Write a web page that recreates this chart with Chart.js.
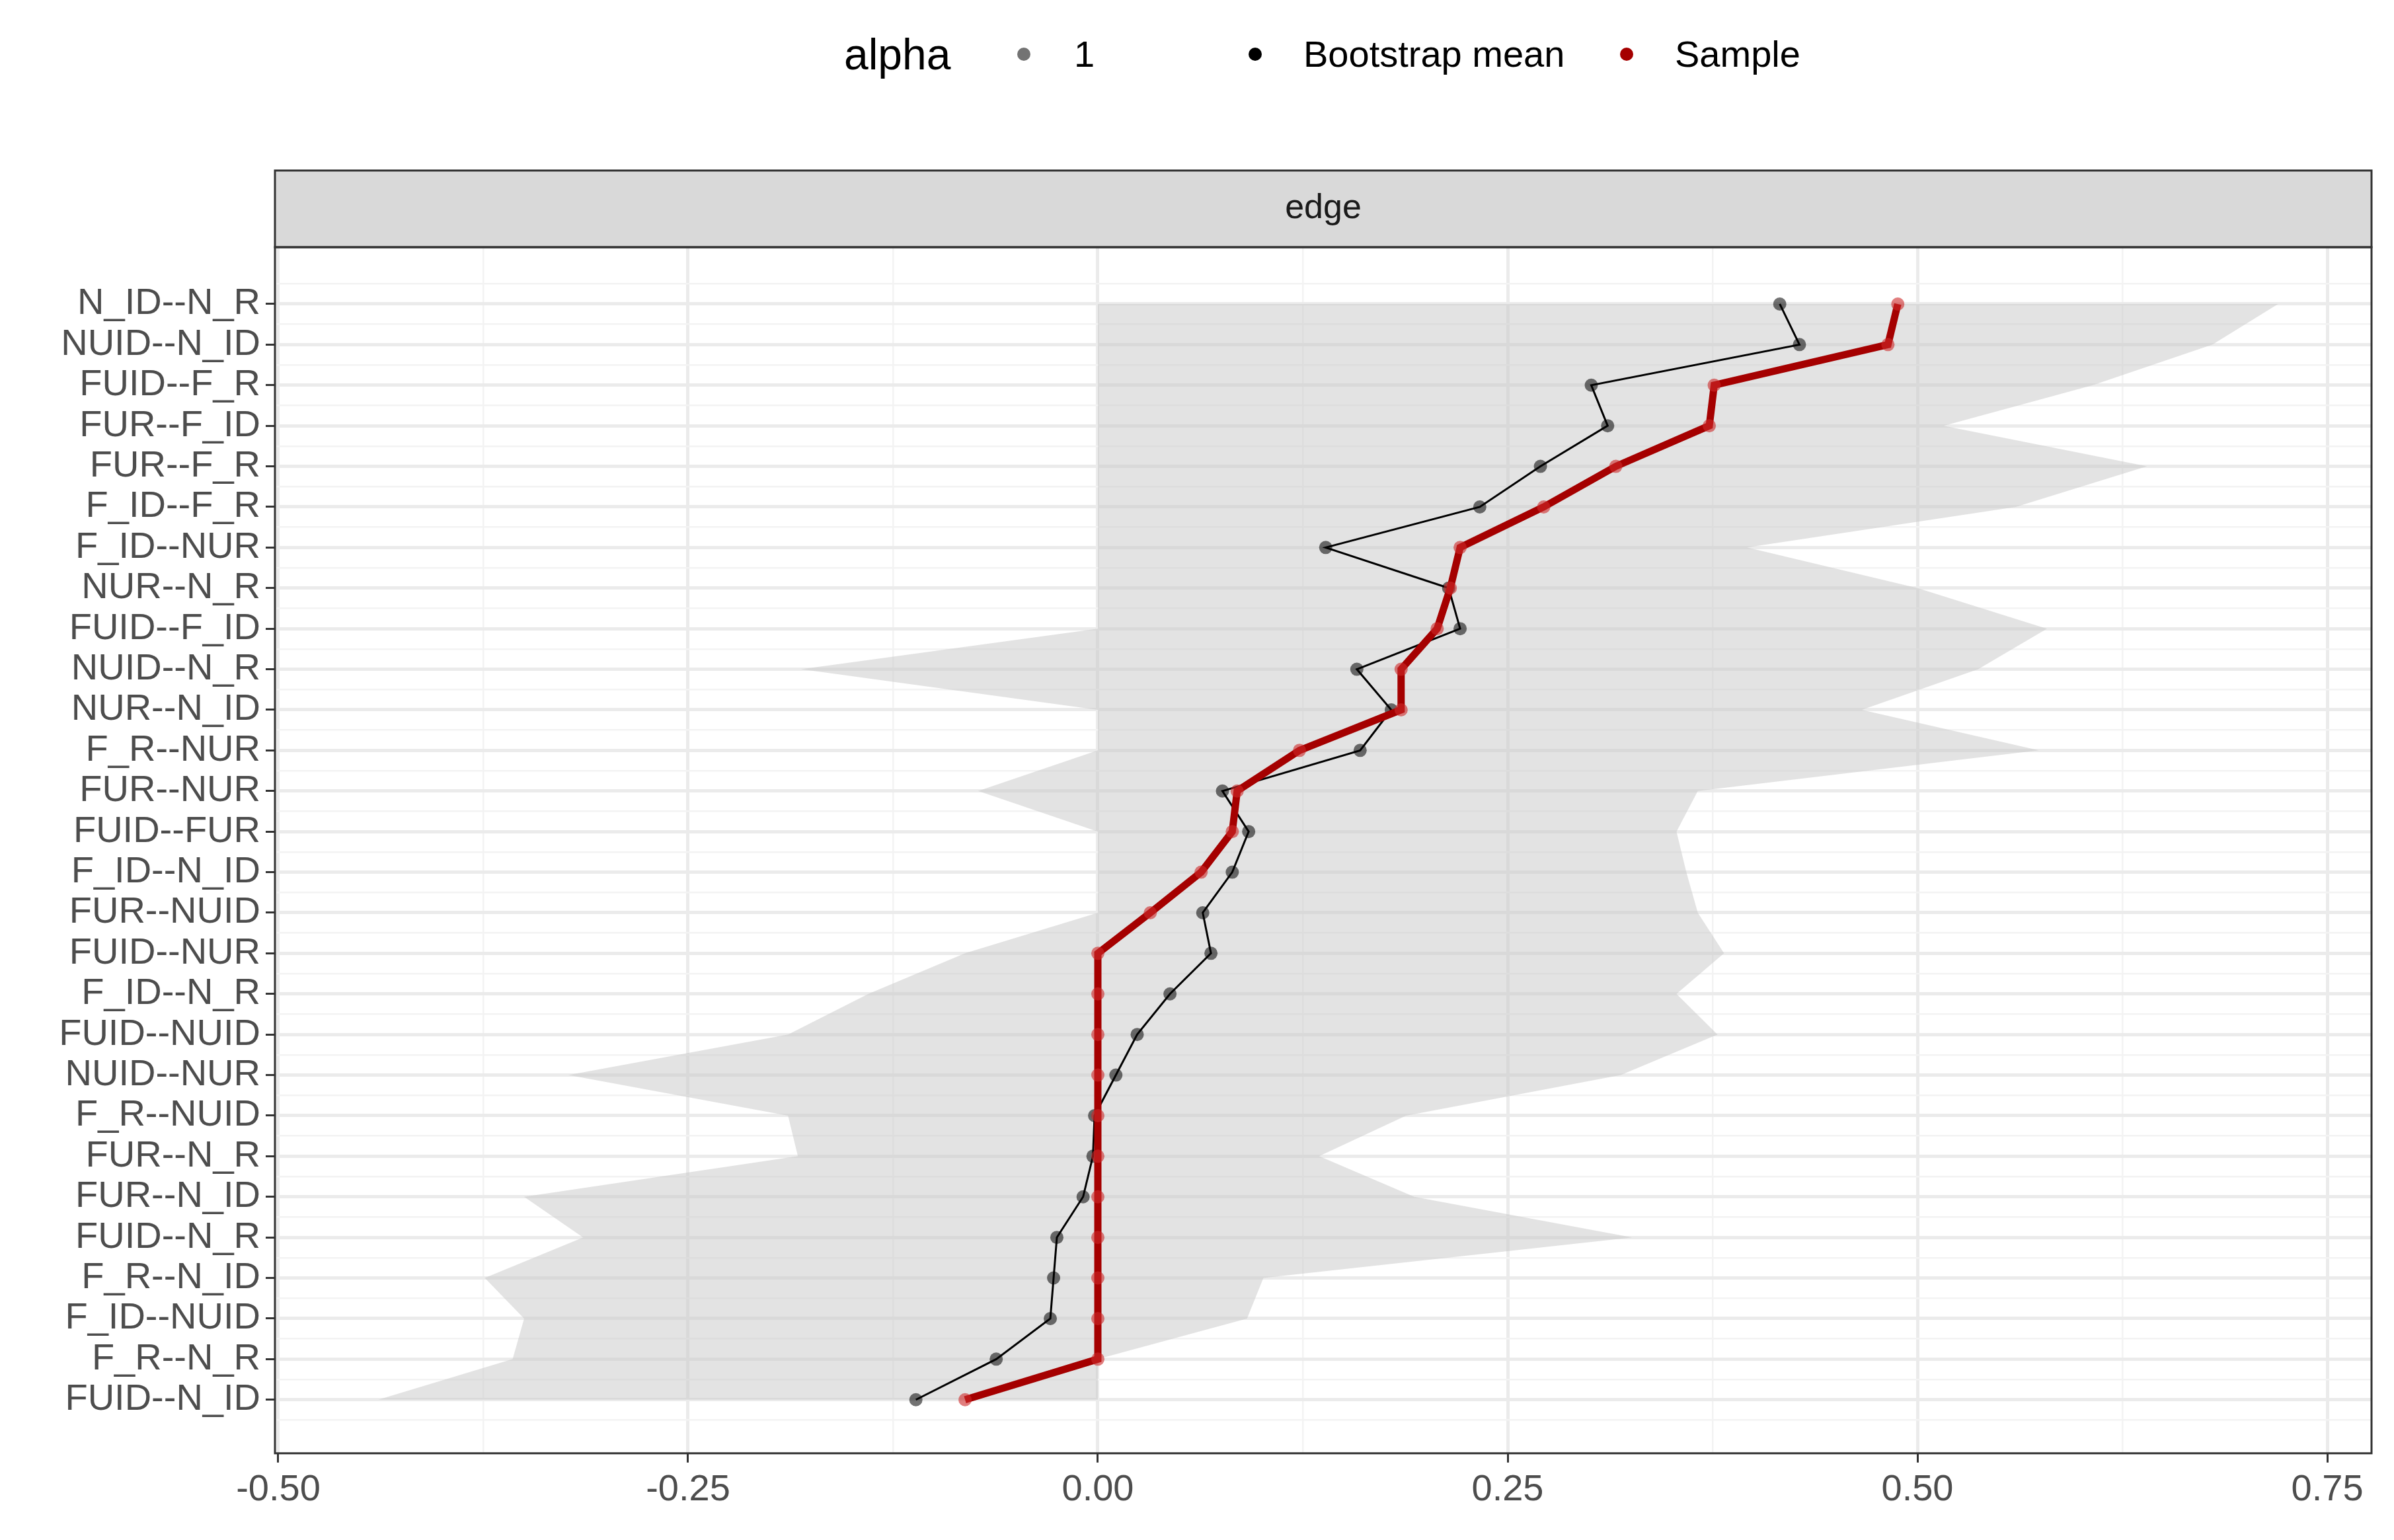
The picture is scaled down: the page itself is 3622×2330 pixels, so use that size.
<!DOCTYPE html>
<html>
<head>
<meta charset="utf-8">
<script src="https://cdn.jsdelivr.net/npm/chart.js@4/dist/chart.umd.min.js"></script>
<style>
  html, body { margin: 0; padding: 0; background: #fff; }
  #wrap { position: relative; width: 3622px; height: 2330px; }
  #legend { position: absolute; top: 40px; left: 0; width: 3622px; height: 84px;
            font-family: "Liberation Sans", Arial, sans-serif; color: #000; }
  #legend span { position: absolute; top: 0; line-height: 84px; }
  .dot { width: 20px; height: 20px; border-radius: 50%; top: 32px !important; }
</style>
</head>
<body>
<div id="wrap">
  <canvas id="edgeChart" width="3622" height="2330"></canvas>
  <div id="legend">
    <span style="left:1277px;font-size:66px">alpha</span>
    <span class="dot" style="left:1539px;background:rgba(0,0,0,0.55)"></span>
    <span style="left:1625px;font-size:56px">1</span>
    <span class="dot" style="left:1889px;background:#000"></span>
    <span style="left:1972px;font-size:56px">Bootstrap mean</span>
    <span class="dot" style="left:2451px;background:#a50000"></span>
    <span style="left:2534px;font-size:56px">Sample</span>
  </div>
</div>
<script>
const edges = ['N_ID--N_R', 'NUID--N_ID', 'FUID--F_R', 'FUR--F_ID', 'FUR--F_R', 'F_ID--F_R', 'F_ID--NUR',
  'NUR--N_R', 'FUID--F_ID', 'NUID--N_R', 'NUR--N_ID', 'F_R--NUR', 'FUR--NUR', 'FUID--FUR', 'F_ID--N_ID',
  'FUR--NUID', 'FUID--NUR', 'F_ID--N_R', 'FUID--NUID', 'NUID--NUR', 'F_R--NUID', 'FUR--N_R', 'FUR--N_ID',
  'FUID--N_R', 'F_R--N_ID', 'F_ID--NUID', 'F_R--N_R', 'FUID--N_ID'];
const sample = [0.488, 0.482, 0.376, 0.373, 0.316, 0.272, 0.221, 0.215, 0.207, 0.185, 0.185, 0.123, 0.085, 0.082,
  0.063, 0.032, 0, 0, 0, 0, 0, 0, 0, 0, 0, 0, 0, -0.081];
const bootMean = [0.416, 0.428, 0.301, 0.311, 0.270, 0.233, 0.139, 0.214, 0.221, 0.158, 0.179, 0.160, 0.076, 0.092,
  0.082, 0.064, 0.069, 0.044, 0.024, 0.011, -0.002, -0.003, -0.009, -0.025, -0.027, -0.029, -0.062, -0.111];
const lower = [0, 0, 0, 0, 0, 0, 0, 0, 0, -0.181, 0, 0, -0.073, 0,
  0, 0, -0.081, -0.140, -0.189, -0.323, -0.189, -0.183, -0.350, -0.314, -0.374, -0.350, -0.357, -0.439];
const upper = [0.720, 0.680, 0.607, 0.516, 0.640, 0.560, 0.396, 0.500, 0.579, 0.537, 0.466, 0.574, 0.366, 0.353,
  0.359, 0.366, 0.382, 0.353, 0.378, 0.319, 0.188, 0.135, 0.193, 0.326, 0.101, 0.091, 0, 0];
const xTicks = [-0.5, -0.375, -0.25, -0.125, 0, 0.125, 0.25, 0.375, 0.5, 0.625, 0.75];

const pts = arr => arr.map((v, i) => ({ x: v, y: i }));
const font = { family: "'Liberation Sans', Arial, sans-serif", size: 56 };
const isMajorX = v => Math.abs(v * 4 - Math.round(v * 4)) < 1e-6;

// facet strip "edge" and panel border
const stripPlugin = {
  id: 'strip',
  afterDraw(chart) {
    const { ctx, chartArea: a } = chart;
    ctx.save();
    ctx.fillStyle = '#d9d9d9';
    ctx.fillRect(a.left, a.top - 116, a.right - a.left, 116);
    ctx.strokeStyle = '#333';
    ctx.lineWidth = 3;
    ctx.strokeRect(a.left, a.top - 116, a.right - a.left, 116);
    ctx.strokeRect(a.left, a.top, a.right - a.left, a.bottom - a.top);
    ctx.fillStyle = '#1a1a1a';
    ctx.font = "52px 'Liberation Sans', Arial, sans-serif";
    ctx.textAlign = 'center';
    ctx.textBaseline = 'middle';
    ctx.fillText('edge', (a.left + a.right) / 2, a.top - 58);
    ctx.restore();
  }
};

const ctx = document.getElementById('edgeChart').getContext('2d');
new Chart(ctx, {
  type: 'line',
  data: {
    datasets: [
      { label: 'lower', data: pts(lower), borderWidth: 0, pointRadius: 0, fill: false, order: 4 },
      { label: 'upper', data: pts(upper), borderWidth: 0, pointRadius: 0,
        backgroundColor: 'rgba(200,200,200,0.5)', fill: '-1', order: 3 },
      { label: 'Bootstrap mean', data: pts(bootMean), borderColor: '#000', borderWidth: 3,
        pointRadius: 10, pointBackgroundColor: 'rgba(0,0,0,0.55)', pointBorderWidth: 0, order: 2 },
      { label: 'Sample', data: pts(sample), borderColor: '#a50000', borderWidth: 11,
        pointRadius: 10, pointBackgroundColor: 'rgba(205,40,40,0.6)', pointBorderWidth: 0, order: 1 }
    ]
  },
  options: {
    indexAxis: 'y',
    responsive: false,
    animation: false,
    layout: { padding: { top: 374, right: 34, bottom: 34, left: 20 } },
    plugins: { legend: { display: false }, tooltip: { enabled: false } },
    scales: {
      x: {
        type: 'linear', min: -0.502, max: 0.777,
        afterBuildTicks: s => { s.ticks = xTicks.map(v => ({ value: v })); },
        grid: {
          color: c => isMajorX(c.tick.value) ? '#ebebeb' : '#f3f3f3',
          lineWidth: c => isMajorX(c.tick.value) ? 5 : 2.5,
          tickColor: c => isMajorX(c.tick.value) ? '#333' : 'rgba(0,0,0,0)',
          tickLength: 14, tickWidth: 3
        },
        border: { display: false },
        ticks: {
          font: font, color: '#4d4d4d', padding: 8, maxRotation: 0, autoSkip: false,
          callback: v => isMajorX(v) ? v.toFixed(2) : ''
        }
      },
      y: {
        type: 'linear', reverse: true, min: -1.4, max: 28.32,
        afterBuildTicks: s => {
          const t = [];
          for (let i = -0.5; i <= 27.5; i += 0.5) t.push({ value: i });
          s.ticks = t;
        },
        afterFit: s => { s.width = 396; },
        grid: {
          color: c => Number.isInteger(c.tick.value) ? '#ebebeb' : '#f3f3f3',
          lineWidth: c => Number.isInteger(c.tick.value) ? 5 : 2.5,
          tickColor: c => Number.isInteger(c.tick.value) ? '#333' : 'rgba(0,0,0,0)',
          tickLength: 14, tickWidth: 3
        },
        border: { display: false },
        ticks: {
          font: font, color: '#4d4d4d', padding: 8, autoSkip: false,
          callback: v => Number.isInteger(v) && edges[v] ? edges[v] : ''
        }
      }
    }
  },
  plugins: [stripPlugin]
});
</script>
</body>
</html>
